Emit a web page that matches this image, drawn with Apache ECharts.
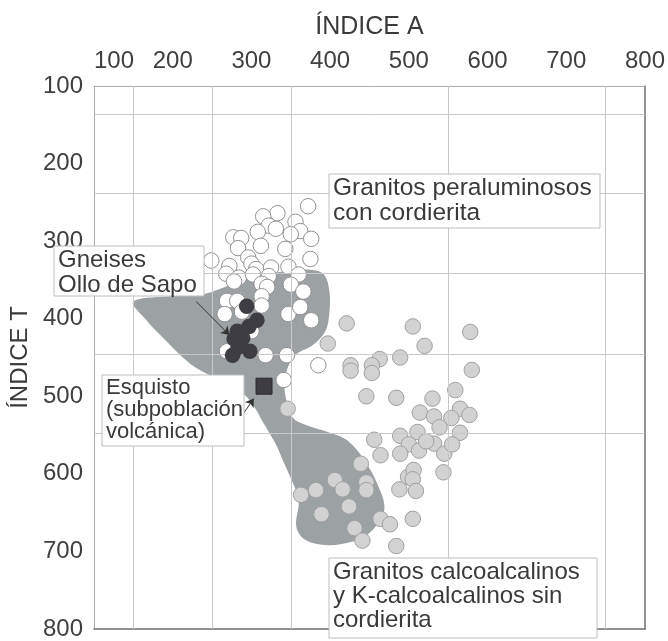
<!DOCTYPE html>
<html>
<head>
<meta charset="utf-8">
<script src="https://cdn.jsdelivr.net/npm/echarts@6/dist/echarts.min.js"></script>
<style>
html,body{margin:0;padding:0;background:#fff;}
#chart{width:668px;height:641px;}
</style>
</head>
<body>
<div id="chart"></div>
<script>
// ---- Axis definitions ----
const axisMin = 100;
const axisMax = 800;
const tickStep = 100;
const xAxisTitle = 'ÍNDICE A';
const yAxisTitle = 'ÍNDICE T';

// irregular reference grid lines of the original figure
const gridLinesX = [150, 250, 350, 550, 750];
const gridLinesY = [136, 238, 342, 446, 548];

// ---- Data (ÍNDICE A, ÍNDICE T) ----
// Granitos peraluminosos con cordierita (white circles)
const peraluminosos = [
  [372,255],[333,264],[315,268],[322,280],[331,284],[308,288],[277,295],[287,296],
  [356,275],[362,287],[350,291],[376,297],[312,306],[283,309],[343,310],[296,321],
  [375,323],[249,325],[300,329],[272,332],[306,336],[325,334],[347,333],[268,342],
  [284,347],[302,343],[322,345],[360,343],[278,352],[313,355],[350,356],[320,359],
  [366,365],[313,371],[269,377],[282,377],[313,383],[266,394],[347,394],[362,385],
  [376,402],[300,416],[318,447],[345,447],[269,442],[288,391],[385,460],[341,479]
];

// Granitos calcoalcalinos y K-calcoalcalinos sin cordierita (grey circles)
const calcoalcalinos = [
  [421,406],[505,410],[578,417],[397,432],[520,435],[489,450],[463,452],[453,460],
  [453,470],[426,460],[426,467],[580,466],[446,500],[484,502],[530,503],[559,492],
  [514,521],[532,526],[565,516],[577,524],[554,528],[539,540],[565,547],[511,546],
  [489,551],[456,556],[500,562],[513,570],[489,574],[464,576],[532,561],[522,558],
  [545,574],[555,562],[544,598],[499,604],[506,595],[505,607],[488,620],[509,622],
  [439,587],[406,608],[382,621],[363,627],[416,620],[446,611],[446,621],[424,642],
  [389,652],[431,670],[441,686],[464,658],[476,665],[484,693],[505,658],[346,516]
];

// Gneises Ollo de Sapo (black circles)
const gneises = [
  [294,384],[307,402],[297,410],[282,416],[278,426],[289,425],[283,437],[298,442],[276,447]
];

// Esquisto (subpoblación volcánica) (black square)
const esquisto = [[316,487]];

// Field of the Ollo de Sapo gneisses (grey area outline)
const ollosapoField = [
  [150,378],[197,371],[240,368],[272,357],[303,346],[341,339],[375,337],[392,343],
  [399,364],[399,393],[394,416],[378,434],[357,446],[347,461],[342,483],[345,508],
  [353,528],[372,538],[397,546],[422,557],[444,583],[460,613],[469,643],[460,665],
  [444,681],[426,688],[397,692],[368,685],[357,668],[360,634],[351,608],[341,585],
  [330,560],[315,534],[300,508],[284,492],[253,476],[222,458],[188,425],[165,400]
];

// arrows from labels to the samples
const arrowGneises = [[230,378],[272,421]];
const arrowEsquisto = [[288,525],[303,503]];

const FONT = '"Liberation Sans", Arial, Helvetica, sans-serif';
const TXT = '#3a3a3a';

const chart = echarts.init(document.getElementById('chart'), null, {renderer: 'canvas'});

function box(x, y, w, h, lines, size, lh) {
  return {
    type: 'group', z: 100,
    children: [
      {type: 'rect', shape: {x: x, y: y, width: w, height: h},
       style: {fill: '#fff', stroke: '#bdbdbd', lineWidth: 1}, z: 100},
      {type: 'text', x: x + 4, y: y + 2, z: 101,
       style: {text: lines.join('\n'), fill: TXT, fontSize: size, fontFamily: FONT,
               lineHeight: lh, align: 'left', verticalAlign: 'top'}}
    ]
  };
}

const option = {
  backgroundColor: '#fff',
  animation: false,
  grid: {left: 93, right: 17, top: 86, bottom: 8, containLabel: false},
  xAxis: [
    {
      type: 'value', position: 'top', min: axisMin, max: axisMax, interval: tickStep,
      name: xAxisTitle, nameLocation: 'middle', nameGap: 46,
      nameTextStyle: {fontSize: 25, color: TXT, fontFamily: FONT},
      axisLine: {show: true, lineStyle: {color: '#adadad', width: 1}},
      axisTick: {show: false},
      splitLine: {show: false},
      axisLabel: {fontSize: 24, color: '#3f3f3f', fontFamily: FONT, margin: 13,
                  alignMinLabel: 'left'}
    },
    {
      type: 'value', position: 'bottom', min: axisMin, max: axisMax,
      axisLine: {show: true, lineStyle: {color: '#6e6e6e', width: 1.5}},
      axisTick: {show: false}, axisLabel: {show: false}, splitLine: {show: false}
    }
  ],
  yAxis: [
    {
      type: 'value', position: 'left', inverse: true, min: axisMin, max: axisMax, interval: tickStep,
      name: yAxisTitle, nameLocation: 'middle', nameGap: 62, nameRotate: 90,
      nameTextStyle: {fontSize: 24, color: TXT, fontFamily: FONT},
      axisLine: {show: true, lineStyle: {color: '#adadad', width: 1}},
      axisTick: {show: false},
      splitLine: {show: false},
      axisLabel: {fontSize: 24, color: '#3f3f3f', fontFamily: FONT, margin: 11}
    },
    {
      type: 'value', position: 'right', inverse: true, min: axisMin, max: axisMax,
      axisLine: {show: true, lineStyle: {color: '#6e6e6e', width: 1.5}},
      axisTick: {show: false}, axisLabel: {show: false}, splitLine: {show: false}
    }
  ],
  series: [
    {
      name: 'grid', type: 'scatter', data: [], z: 1, silent: true,
      markLine: {
        silent: true, symbol: ['none', 'none'], label: {show: false},
        lineStyle: {color: '#c8c8c8', type: 'solid', width: 1},
        emphasis: {disabled: true},
        data: gridLinesX.map(v => ({xAxis: v})).concat(gridLinesY.map(v => ({yAxis: v})))
      }
    },
    {
      name: 'Campo Ollo de Sapo', type: 'custom', z: 2, silent: true,
      data: ollosapoField,
      renderItem: function (params, api) {
        if (params.dataIndex !== 0) return null;
        const pts = ollosapoField.map(p => api.coord(p));
        return {type: 'polygon', shape: {points: pts, smooth: 0.35},
                style: {fill: 'rgba(128,135,139,0.78)'}};
      }
    },
    {
      name: 'Granitos calcoalcalinos', type: 'scatter', z: 3, data: calcoalcalinos,
      symbol: 'circle', symbolSize: 15.5,
      itemStyle: {color: '#d2d2d2', borderColor: '#a0a0a0', borderWidth: 1, opacity: 1}
    },
    {
      name: 'Granitos peraluminosos', type: 'scatter', z: 4, data: peraluminosos,
      symbol: 'circle', symbolSize: 15.5,
      itemStyle: {color: '#ffffff', borderColor: '#919191', borderWidth: 1, opacity: 1}
    },
    {
      name: 'Gneises Ollo de Sapo', type: 'scatter', z: 5, data: gneises,
      symbol: 'circle', symbolSize: 15.5,
      itemStyle: {color: '#3e3d43', opacity: 1}
    },
    {
      name: 'Esquisto', type: 'scatter', z: 6, data: esquisto,
      symbol: 'rect', symbolSize: 16,
      itemStyle: {color: '#3e3d43', borderColor: '#2a2a2e', borderWidth: 1, opacity: 1},
      markLine: {
        silent: true, symbol: ['none', 'arrow'], symbolSize: 8, label: {show: false},
        lineStyle: {color: '#333', type: 'solid', width: 1},
        emphasis: {disabled: true},
        data: [
          [{coord: arrowGneises[0]}, {coord: arrowGneises[1]}],
          [{coord: arrowEsquisto[0]}, {coord: arrowEsquisto[1]}]
        ]
      }
    }
  ],
  graphic: [
    box(54, 246, 150, 50, ['Gneises', 'Ollo de Sapo'], 24, 25),
    box(102, 375, 142, 71, ['Esquisto', '(subpoblación', 'volcánica)'], 22, 22),
    box(329, 174, 271, 54, ['Granitos peraluminosos', 'con cordierita'], 24.5, 25),
    box(329, 558, 268, 80, ['Granitos calcoalcalinos', 'y K-calcoalcalinos sin', 'cordierita'], 24, 24)
  ]
};

chart.setOption(option);
</script>
</body>
</html>
